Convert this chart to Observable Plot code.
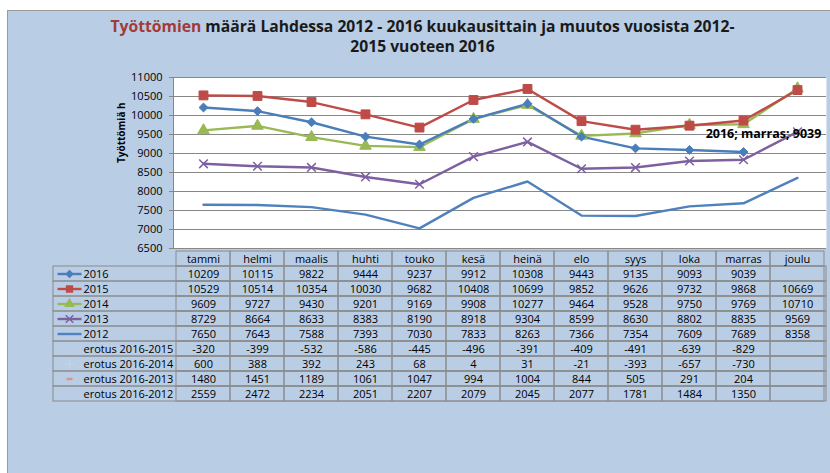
<!DOCTYPE html>
<html><head><meta charset="utf-8">
<script src="https://cdn.jsdelivr.net/npm/d3@7"></script>
<script src="https://cdn.jsdelivr.net/npm/@observablehq/plot@0.6"></script>
<style>
body{margin:0;width:830px;height:473px;overflow:hidden;background:#fff;position:relative;font-family:"Open Sans",sans-serif;}
#panel{position:absolute;left:7px;top:10px;width:823px;height:463px;background:#b9cde5;border-top:1.5px solid #9a9a9a;border-left:1.5px solid #9a9a9a;box-sizing:border-box}
#title{position:absolute;left:0;width:845px;top:16px;text-align:center;font-weight:bold;font-size:15.7px;line-height:20px;color:#1a1a1a;white-space:nowrap}
#title .red{color:#a33a38}
#chart,#table{position:absolute;left:0}
#chart{top:0}
#table{top:248px}
svg{overflow:visible}
</style></head>
<body>
<div id="panel"></div>
<div id="title"><span class="red">Työttömien</span> määrä Lahdessa 2012 - 2016 kuukausittain ja muutos vuosista 2012-<br>2015 vuoteen 2016</div>
<div id="chart"></div>
<div id="table"></div>
<script>
const months = ["tammi","helmi","maalis","huhti","touko","kesä","heinä","elo","syys","loka","marras","joulu"];
const v2016 = [10209,10115,9822,9444,9237,9912,10308,9443,9135,9093,9039,null];
const v2015 = [10529,10514,10354,10030,9682,10408,10699,9852,9626,9732,9868,10669];
const v2014 = [9609,9727,9430,9201,9169,9908,10277,9464,9528,9750,9769,10710];
const v2013 = [8729,8664,8633,8383,8190,8918,9304,8599,8630,8802,8835,9569];
const v2012 = [7650,7643,7588,7393,7030,7833,8263,7366,7354,7609,7689,8358];
const d1615 = [-320,-399,-532,-586,-445,-496,-391,-409,-491,-639,-829,null];
const d1614 = [600,388,392,243,68,4,31,-21,-393,-657,-730,null];
const d1613 = [1480,1451,1189,1061,1047,994,1004,844,505,291,204,null];
const d1612 = [2559,2472,2234,2051,2207,2079,2045,2077,1781,1484,1350,null];
const yTicks = [6500,7000,7500,8000,8500,9000,9500,10000,10500,11000];
const seriesNames = ["2016","2015","2014","2013","2012"];
const seriesValues = [v2016,v2015,v2014,v2013,v2012];
const seriesColors = ["#4a7ebb","#be4b48","#98b954","#7d60a0","#4f81bd"];
const seriesSymbols = ["diamond2","square","triangle","times",null];
const seriesR = [4,5,4.3,4,0];
const diffNames = ["erotus 2016-2015","erotus 2016-2014","erotus 2016-2013","erotus 2016-2012"];
const diffValues = [d1615,d1614,d1613,d1612];
const yLabel = "Työttömiä h";
const labelMonth = "marras";

const long = seriesNames.map((s,i)=>months.map((m,j)=>({series:s, month:m, value:seriesValues[i][j]})).filter(d=>d.value!=null));

const chartMarks = [
  Plot.frame({fill:"white", stroke:"none"}),
  Plot.ruleY(yTicks, {stroke:"#878787", strokeWidth:1}),
  Plot.frame({anchor:"left", stroke:"#878787"}),
  Plot.axisY({ticks:yTicks, tickSize:4, tickPadding:7, tickFormat:d=>String(d), label:null, stroke:"#878787", fill:"#000", fontSize:11}),
  Plot.text([yLabel], {frameAnchor:"left", dx:-52, rotate:-90, fontWeight:"bold", fontSize:10, fill:"#000"})
];
[4,3,2,0,1].forEach(i=>{
  chartMarks.push(Plot.line(long[i], {x:"month", y:"value", stroke:seriesColors[i], strokeWidth:2.4, curve:"linear"}));
});
[4,3,2,0,1].forEach(i=>{
  if (!seriesSymbols[i]) return;
  const sym = seriesSymbols[i];
  const strokeOnly = sym === "times";
  chartMarks.push(Plot.dot(long[i], {x:"month", y:"value", symbol:sym, r:seriesR[i], fill: strokeOnly ? "none" : seriesColors[i], stroke:seriesColors[i], strokeWidth: strokeOnly ? 1.5 : 1}));
});
chartMarks.push(Plot.text(long[0].filter(d=>d.month===labelMonth), {x:"month", y:"value", text:d=>`${d.series}; ${d.month}; ${d.value}`, dx:20, dy:-18, fontWeight:"bold", fontSize:12.5, fill:"#000"}));

const chart = Plot.plot({
  width:830, height:250, marginLeft:173, marginRight:4, marginTop:77, marginBottom:2,
  style:{background:"transparent", fontFamily:"Open Sans", fontSize:"11px", color:"#000", overflow:"visible"},
  x:{type:"point", domain:months, padding:0.5, axis:null},
  y:{domain:[6500,11000], axis:null},
  marks: chartMarks
});
document.getElementById("chart").append(chart);

const headerKey = "kk";
const rowNames = [...seriesNames, ...diffNames];
const rowValues = [...seriesValues, ...diffValues];
const cells = rowNames.flatMap((r,i)=>months.map((m,j)=>({row:r, month:m, value:rowValues[i][j]})));
const headerCells = months.map(m=>({row:headerKey, month:m}));
const lineSymbol = {draw(ctx){ctx.moveTo(-12,0); ctx.lineTo(12,0);}};
const dashSymbol = {draw(ctx){ctx.moveTo(-3,0); ctx.lineTo(3,0);}};
const swatchRows = seriesNames.map((s,i)=>({row:s, color:seriesColors[i], symbol:seriesSymbols[i], r:seriesR[i]}));
const tableMarks = [
  Plot.cell(rowNames, {y:d=>d, stroke:"#8c8c8c", fill:"none"}),
  Plot.cell([...headerCells, ...cells], {x:"month", y:"row", stroke:"#8c8c8c", fill:"none"}),
  Plot.text(headerCells, {x:"month", y:"row", text:"month", fill:"#000"}),
  Plot.text(cells.filter(c=>c.value!=null), {x:"month", y:"row", text:d=>String(d.value), fill:"#000"}),
  Plot.text(rowNames, {y:d=>d, frameAnchor:"left", dx:30, textAnchor:"start", text:d=>d, fill:"#000"}),
  Plot.dot(swatchRows, {y:"row", frameAnchor:"left", dx:16, symbol:lineSymbol, r:1, fill:"none", stroke:"color", strokeWidth:2.4}),
  Plot.dot(swatchRows.filter(d=>d.symbol && d.symbol!=="times"), {y:"row", frameAnchor:"left", dx:16, symbol:"symbol", r:d=>d.r*0.8, fill:"color", stroke:"color"}),
  Plot.dot(swatchRows.filter(d=>d.symbol==="times"), {y:"row", frameAnchor:"left", dx:16, symbol:"times", r:3.5, fill:"none", stroke:"color", strokeWidth:1.5}),
  Plot.dot([diffNames[1]], {y:d=>d, frameAnchor:"left", dx:16, symbol:"plus", r:3, fill:"none", stroke:"#c9d3e3", strokeWidth:1}),
  Plot.dot([diffNames[2]], {y:d=>d, frameAnchor:"left", dx:16, symbol:dashSymbol, r:1, fill:"none", stroke:"#e0918c", strokeWidth:2.5})
];
const table = Plot.plot({
  width:830, height:158, marginLeft:53, marginRight:4, marginTop:0.5, marginBottom:2.5,
  style:{background:"transparent", fontFamily:"Open Sans", fontSize:"11px", color:"#000", overflow:"visible"},
  x:{type:"band", domain:months, range:[173,826], padding:0, axis:null},
  y:{type:"band", domain:[headerKey, ...rowNames], padding:0, axis:null},
  symbol:{type:"identity"},
  color:{type:"identity"},
  marks: tableMarks
});
document.getElementById("table").append(table);
</script>
</body></html>
